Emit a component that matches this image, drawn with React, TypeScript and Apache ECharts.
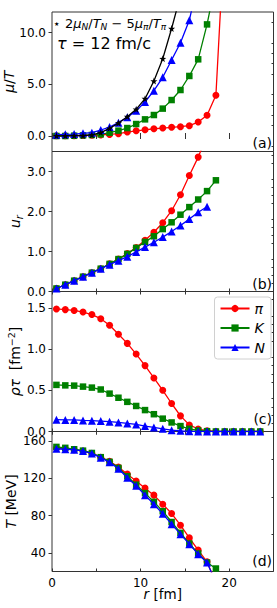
import React, { useEffect, useRef } from 'react';
import * as echarts from 'echarts';

// radial positions (fm)
const R = [0.5, 1.5, 2.5, 3.5, 4.5, 5.5, 6.5, 7.5, 8.5, 9.5, 10.5, 11.5, 12.5, 13.5, 14.5, 15.5, 16.5, 17.5, 18.5, 19.5, 20.5, 21.5, 22.5, 23.5];

// (a) mu/T
const muT_pi = [0.02, 0.02, 0.03, 0.05, 0.07, 0.1, 0.15, 0.22, 0.38, 0.5, 0.6, 0.7, 0.77, 0.84, 0.9, 1.0, 1.35, 2.0, 3.95, 20.0];
const muT_K = [0.0, 0.0, 0.03, 0.06, 0.1, 0.16, 0.32, 0.52, 0.77, 1.16, 1.61, 2.03, 2.65, 3.48, 4.45, 5.81, 7.42, 10.8, 15.0];
const muT_N = [0.13, 0.16, 0.19, 0.26, 0.32, 0.58, 0.87, 1.29, 1.81, 2.45, 3.29, 4.39, 5.68, 7.35, 9.03, 11.2, 15.0];
const muT_comb = [0.02, 0.02, 0.03, 0.04, 0.1, 0.33, 0.74, 1.26, 1.87, 2.58, 3.61, 5.32, 7.48, 10.4, 13.6];

// (b) u_r
const u_pi = [0.075, 0.17, 0.27, 0.37, 0.47, 0.57, 0.69, 0.81, 0.95, 1.1, 1.28, 1.48, 1.72, 2.02, 2.42, 2.9, 3.36, 3.9];
const u_K = [0.075, 0.17, 0.27, 0.37, 0.47, 0.57, 0.69, 0.81, 0.94, 1.09, 1.24, 1.38, 1.56, 1.73, 1.92, 2.11, 2.3, 2.51, 2.78];
const u_N = [0.075, 0.17, 0.27, 0.37, 0.47, 0.57, 0.67, 0.77, 0.87, 0.99, 1.11, 1.23, 1.36, 1.5, 1.65, 1.81, 1.98, 2.12];

// (c) rho*tau
const rho_pi = [1.488, 1.48, 1.47, 1.45, 1.42, 1.37, 1.29, 1.18, 1.07, 0.94, 0.8, 0.65, 0.5, 0.34, 0.19, 0.08, 0.03, 0.01, 0, 0, 0, 0, 0, 0];
const rho_K = [0.566, 0.56, 0.557, 0.545, 0.533, 0.51, 0.46, 0.41, 0.36, 0.31, 0.26, 0.21, 0.156, 0.11, 0.066, 0.033, 0.012, 0.004, 0, 0, 0, 0, 0, 0];
const rho_N = [0.143, 0.14, 0.14, 0.135, 0.131, 0.127, 0.119, 0.11, 0.098, 0.086, 0.066, 0.05, 0.033, 0.016, 0.008, 0.003, 0.001, 0, 0, 0, 0, 0, 0, 0];

// (d) T [MeV]
const T_pi = [152, 151.5, 150.5, 149, 146.5, 142.5, 138, 132, 124.3, 117, 109.3, 101.8, 92.1, 82.1, 69.6, 56, 42.9, 30.4, 8];
const T_K = [153.5, 152.5, 151, 149.5, 147, 142.5, 137.5, 131, 122, 113, 104, 94.6, 84.6, 73, 61.4, 50, 39.3, 29.6, 23.2];
const T_N = [151.5, 151, 150.5, 149, 146.5, 142, 137, 130, 120.5, 111.8, 101.8, 92.1, 81.8, 70.7, 60, 49.3, 38.6, 29.6, 8];

// axis ticks
const xTicks = [0, 5, 10, 15, 20, 25];
const xLabels = [0, 10, 20];
const yMajorA = [0, 5, 10];
const yMinorA = [-1, 1, 2, 3, 4, 6, 7, 8, 9, 11];
const yMajorB = [0, 1, 2, 3];
const yMinorB = [0.2, 0.4, 0.6, 0.8, 1.2, 1.4, 1.6, 1.8, 2.2, 2.4, 2.6, 2.8, 3.2, 3.4];
const yMajorC = [0, 0.5, 1.0, 1.5];
const yMinorC = [0.1, 0.2, 0.3, 0.4, 0.6, 0.7, 0.8, 0.9, 1.1, 1.2, 1.3, 1.4, 1.6, 1.7];
const yMajorD = [40, 80, 120, 160];
const yMinorD = [60, 100, 140];

const FONT = 'DejaVu Sans';
const RED = '#ff0000';
const GREEN = '#008000';
const BLUE = '#0000ff';
const FRAME = '#333333';

const GRID_LEFT = 52;
const GRID_W = 221.5;
const TOPS = [12, 151.5, 291.5, 431.5];
const HEIGHTS = [139.5, 140, 140, 140];

const STAR = 'path://M0,-10L2.35,-3.24L9.51,-3.09L3.8,1.24L5.88,8.09L0,4L-5.88,8.09L-3.8,1.24L-9.51,-3.09L-2.35,-3.24Z';

const pairs = (vals: number[]) => vals.map((v, i) => [R[i], v]);

const rich = {
  i: { fontFamily: FONT, fontStyle: 'italic', fontSize: 14, lineHeight: 18, color: '#000' },
  n: { fontFamily: FONT, fontSize: 14, lineHeight: 18, color: '#000' },
  sub: { fontFamily: FONT, fontStyle: 'italic', fontSize: 10, lineHeight: 10, verticalAlign: 'bottom', color: '#000' },
  sup: { fontFamily: FONT, fontSize: 9.5, lineHeight: 10, verticalAlign: 'top', color: '#000' },
};

function App() {
  const ref = useRef<HTMLDivElement>(null);
  useEffect(() => {
    if (!ref.current) return;
    const chart = echarts.init(ref.current, null, { renderer: 'svg' });

    const grid = TOPS.map((t, i) => ({
      left: GRID_LEFT, width: GRID_W, top: t, height: HEIGHTS[i],
      containLabel: false, outerBoundsMode: 'none',
      show: true, borderColor: FRAME, borderWidth: 1, backgroundColor: 'transparent',
    }));

    const xAxis: any[] = [];
    for (let i = 0; i < 4; i++) {
      const base = {
        type: 'value', gridIndex: i, min: 0, max: 25,
        axisLine: { show: false },
        axisTick: { show: true, inside: true, length: 3, customValues: xTicks, lineStyle: { color: FRAME, width: 1 } },
        splitLine: { show: false },
      };
      xAxis.push({
        ...base, position: 'bottom',
        axisLabel: { show: i === 3, customValues: xLabels, fontFamily: FONT, fontSize: 12, color: '#000', margin: 5 },
        name: i === 3 ? '{i|r}{n| [fm]}' : '',
        nameLocation: 'middle', nameGap: 16, nameMoveOverlap: false,
        nameTextStyle: { rich: { i: { ...rich.i, fontSize: 13.5, lineHeight: 13 }, n: { ...rich.n, fontSize: 13.5, lineHeight: 13 } } },
      });
      xAxis.push({ ...base, position: 'top', axisLabel: { show: false } });
    }

    const yCfg = [
      { min: -1.5, max: 12, major: yMajorA, minor: yMinorA, fmt: (v: number) => v.toFixed(1), name: '{i|μ}{n|/}{i|T}', gap: 34 },
      { min: 0, max: 3.5, major: yMajorB, minor: yMinorB, fmt: (v: number) => v.toFixed(1), name: '{i|u}{sub|r}', gap: 28 },
      { min: 0, max: 1.7, major: yMajorC, minor: yMinorC, fmt: (v: number) => v.toFixed(1), name: '{i|ρτ}{n|  [fm}{sup|−2}{n|]}', gap: 28 },
      { min: 20, max: 170, major: yMajorD, minor: yMinorD, fmt: (v: number) => String(Math.round(v)), name: '{i|T}{n| [MeV]}', gap: 32 },
    ];
    const yAxis: any[] = [];
    yCfg.forEach((c, i) => {
      yAxis.push({
        type: 'value', gridIndex: i, min: c.min, max: c.max, position: 'left',
        axisLine: { show: false },
        axisTick: { show: true, inside: false, length: 3.5, customValues: c.major, lineStyle: { color: FRAME, width: 1 } },
        axisLabel: { show: true, customValues: c.major, formatter: c.fmt, fontFamily: FONT, fontSize: 12, color: '#000', margin: 6 },
        splitLine: { show: false },
        name: c.name, nameLocation: 'middle', nameRotate: 90, nameGap: c.gap, nameMoveOverlap: false,
        nameTextStyle: { rich },
      });
    });
    yCfg.forEach((c, i) => {
      yAxis.push({
        type: 'value', gridIndex: i, min: c.min, max: c.max, position: 'right', offset: -GRID_W,
        axisLine: { show: false },
        axisTick: { show: true, inside: true, length: 2, customValues: c.minor, lineStyle: { color: FRAME, width: 1 } },
        axisLabel: { show: false },
        splitLine: { show: false },
      });
    });

    const mk = (name: string, idx: number, vals: number[], color: string, symbol: string, size: number, z: number) => ({
      type: 'line', name, xAxisIndex: idx * 2, yAxisIndex: idx, data: pairs(vals),
      symbol, symbolSize: size, showSymbol: true, clip: true, z,
      lineStyle: { color, width: 1.3 }, itemStyle: { color },
      emphasis: { disabled: true }, animation: false,
    });

    const series = [
      mk('π', 0, muT_pi, RED, 'circle', 7, 2),
      mk('K', 0, muT_K, GREEN, 'rect', 6.5, 3),
      mk('N', 0, muT_N, BLUE, 'triangle', 8, 4),
      mk('comb', 0, muT_comb, '#000', STAR, 7, 5),
      mk('π', 1, u_pi, RED, 'circle', 7, 2),
      mk('K', 1, u_K, GREEN, 'rect', 6.5, 3),
      mk('N', 1, u_N, BLUE, 'triangle', 8, 4),
      mk('π', 2, rho_pi, RED, 'circle', 7, 2),
      mk('K', 2, rho_K, GREEN, 'rect', 6.5, 3),
      mk('N', 2, rho_N, BLUE, 'triangle', 8, 4),
      mk('π', 3, T_pi, RED, 'circle', 7, 2),
      mk('K', 3, T_K, GREEN, 'rect', 6.5, 3),
      mk('N', 3, T_N, BLUE, 'triangle', 8, 4),
    ];

    const panelLabel = (txt: string, y: number) => ({
      type: 'text', x: 272, y, z: 10,
      style: { text: txt, fontFamily: FONT, fontSize: 14, fill: '#000', textAlign: 'right', textVerticalAlign: 'middle' },
    });

    chart.setOption({
      animation: false,
      grid, xAxis, yAxis, series,
      legend: {
        data: ['π', 'K', 'N'], orient: 'vertical', right: 6, top: 297,
        itemWidth: 29, itemHeight: 9, itemGap: 5.5,
        padding: [4.5, 6, 4.5, 5],
        backgroundColor: '#fff', borderColor: '#d0d0d0', borderWidth: 1, borderRadius: 3,
        textStyle: { fontFamily: FONT, fontStyle: 'italic', fontSize: 14, lineHeight: 14, color: '#000' },
        selectedMode: false,
      },
      graphic: [
        { type: 'text', x: 54, y: 23, z: 10, style: { text: '★', fontFamily: FONT, fontSize: 6, fill: '#000', textVerticalAlign: 'middle' } },
        {
          type: 'text', x: 65, y: 23, z: 10,
          style: {
            text: '{n|2}{i|μ}{s|N}{n|/}{i|T}{s|N}{n| − 5}{i|μ}{s|π}{n|/}{i|T}{s|π}',
            textVerticalAlign: 'middle',
            rich: {
              n: { fontFamily: FONT, fontSize: 13, lineHeight: 16, fill: '#000' },
              i: { fontFamily: FONT, fontStyle: 'italic', fontSize: 13, lineHeight: 16, fill: '#000' },
              s: { fontFamily: FONT, fontStyle: 'italic', fontSize: 9, lineHeight: 9, verticalAlign: 'bottom', fill: '#000' },
            },
          },
        },
        {
          type: 'text', x: 57, y: 43, z: 10,
          style: {
            text: '{i|τ}{n| = 12 fm/c}', textVerticalAlign: 'middle',
            rich: {
              n: { fontFamily: FONT, fontSize: 16, fill: '#000' },
              i: { fontFamily: FONT, fontStyle: 'italic', fontSize: 16, fill: '#000' },
            },
          },
        },
        panelLabel('(a)', 143),
        panelLabel('(b)', 283.5),
        panelLabel('(c)', 418.5),
        panelLabel('(d)', 560.5),
      ],
    });
    return () => chart.dispose();
  }, []);
  return <div ref={ref} style={{ position: 'absolute', left: 0, top: 0, width: 277, height: 608 }} />;
}

export default App;
